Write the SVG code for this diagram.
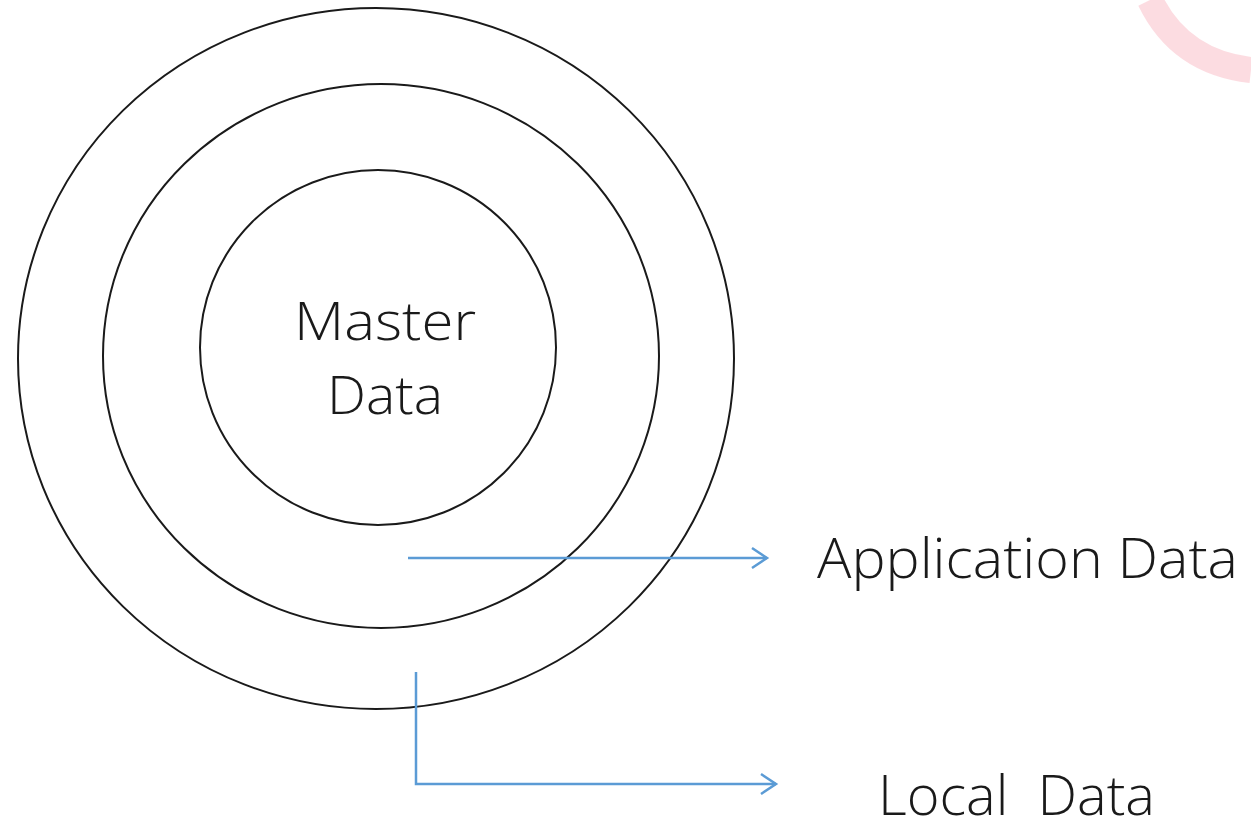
<svg xmlns="http://www.w3.org/2000/svg" width="1251" height="821" viewBox="0 0 1251 821">
<style>
.ring{fill:none;stroke:#1a1a1a;stroke-width:2}
.conn{fill:none;stroke:#5b9bd5;stroke-width:2.5}
.lbl{font-family:"Open Sans","Liberation Sans",sans-serif;font-weight:300;fill:#1a1a1a}
</style>
<defs>
<marker id="arr" markerWidth="20" markerHeight="24" refX="17" refY="12" orient="auto" markerUnits="userSpaceOnUse">
<path d="M2,2 L17,12 L2,22" fill="none" stroke="#5b9bd5" stroke-width="2.5"/>
</marker>
</defs>
<rect width="1251" height="821" fill="#ffffff"/>
<path d="M1150,0 Q1180,62 1251,70" fill="none" stroke="#fbd3da" stroke-width="26" opacity="0.8"/>
<g id="local-data-ring"><ellipse class="ring" cx="376" cy="358.5" rx="358" ry="350.5"/></g>
<g id="application-data-ring"><ellipse class="ring" cx="381" cy="356" rx="278" ry="272"/></g>
<g id="master-data"><ellipse class="ring" cx="378" cy="347.5" rx="178" ry="177.5"/>
<text class="lbl" x="385" y="340" font-size="54" text-anchor="middle" textLength="182" lengthAdjust="spacingAndGlyphs">Master</text>
<text class="lbl" x="385" y="414" font-size="54" text-anchor="middle" textLength="116" lengthAdjust="spacingAndGlyphs">Data</text>
</g>
<g id="connectors">
<path class="conn" d="M408,558 L767,558" marker-end="url(#arr)"/>
<path class="conn" d="M416,672 L416,784 L776,784" marker-end="url(#arr)"/>
</g>
<g id="application-data"><text class="lbl" x="817" y="578" font-size="56" textLength="421" lengthAdjust="spacingAndGlyphs">Application Data</text></g>
<g id="local-data"><text class="lbl" x="878" y="815" font-size="56" textLength="277" lengthAdjust="spacingAndGlyphs" xml:space="preserve">Local  Data</text></g>
</svg>
